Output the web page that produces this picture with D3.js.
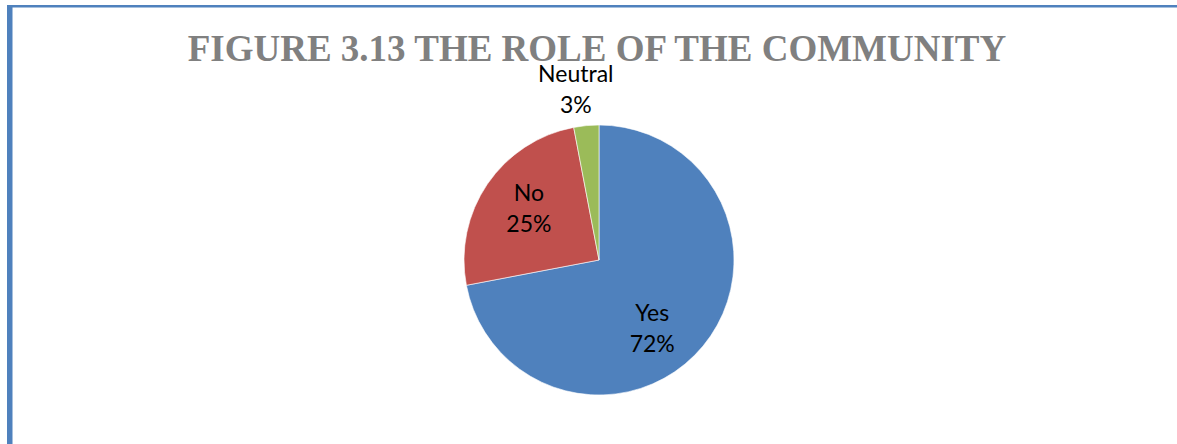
<!DOCTYPE html>
<html>
<head>
<meta charset="utf-8">
<script src="https://cdn.jsdelivr.net/npm/d3@7"></script>
<style>
	body { margin: 0; background: #fff; }
	svg { display: block; }
</style>
</head>
<body>
<div id="chart"></div>
<script>
// =====================================================
// Pie chart: the role of the community
// =====================================================

var categories = ["Yes", "No", "Neutral"];
var values = [72, 25, 3];
var colors = ["#4F81BD", "#C0504D", "#9BBB59"];
var title = "FIGURE 3.13 THE ROLE OF THE COMMUNITY";

var width = 1177, height = 444;
var cx = 599, cy = 260, r = 135;

var svg = d3.select("#chart").append("svg")
	.attr("width", width)
	.attr("height", height);

// frame lines (left + top only)
svg.append("rect").attr("x", 7).attr("y", 5).attr("width", width - 7).attr("height", 2.5).attr("fill", "#4F81BD");
svg.append("rect").attr("x", 7).attr("y", 5).attr("width", 5.5).attr("height", height - 5).attr("fill", "#4F81BD");

svg.append("text")
	.attr("x", 597)
	.attr("y", 61)
	.attr("text-anchor", "middle")
	.style("font-family", "'Liberation Serif', 'Times New Roman', serif")
	.style("font-weight", "bold")
	.style("font-size", "37px")
	.attr("fill", "#808080")
	.text(title);

var data = categories.map(function(c, i) { return {name: c, value: values[i], color: colors[i]}; });

var pie = d3.pie().sort(null).value(function(d) { return d.value; });
var arcs = pie(data);
var arc = d3.arc().innerRadius(0).outerRadius(r);

var g = svg.append("g").attr("transform", "translate(" + cx + "," + cy + ")");

g.selectAll("path")
	.data(arcs)
	.enter().append("path")
		.attr("d", arc)
		.attr("fill", function(d) { return d.data.color; })
		.attr("stroke", "#fff")
		.attr("stroke-width", 0.6);

// label radius per slice (the small slice has its label outside)
var labelR = [95, 92, 172];
var nudge = [[-20, 7], [6, 0], [-7, 0]];

var labels = g.selectAll(".lbl")
	.data(arcs)
	.enter().append("text")
		.attr("class", "lbl")
		.attr("text-anchor", "middle")
		.style("font-family", "Lato, 'Open Sans', sans-serif")
		.style("font-size", "23px")
		.attr("fill", "#000")
		.attr("transform", function(d, i) {
			var c = d3.arc().innerRadius(labelR[i]).outerRadius(labelR[i]).centroid(d);
			return "translate(" + (c[0] + nudge[i][0]) + "," + (c[1] + nudge[i][1]) + ")";
		});

labels.append("tspan").attr("x", 0).attr("y", -7).text(function(d) { return d.data.name; });
labels.append("tspan").attr("x", 0).attr("y", 24).text(function(d) { return d.data.value + "%"; });
</script>
</body>
</html>
